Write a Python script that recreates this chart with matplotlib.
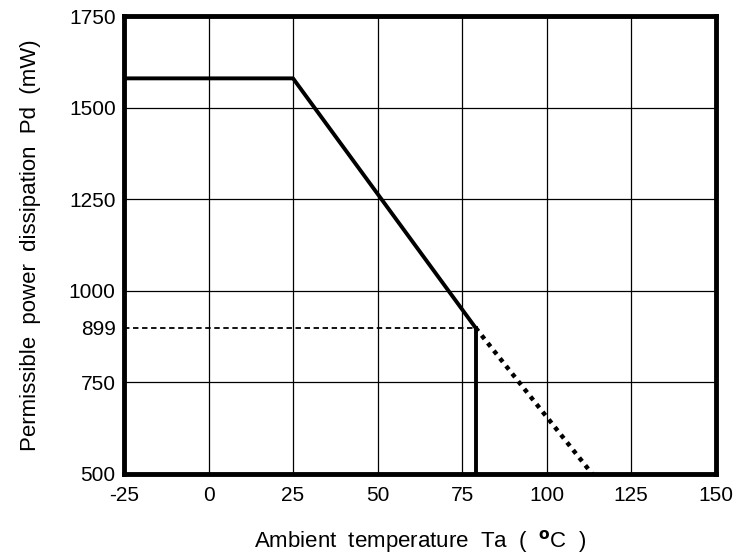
import numpy as np
import matplotlib.pyplot as plt

plt.rcParams['font.family'] = ['Liberation Sans', 'DejaVu Sans']
plt.rcParams['axes.unicode_minus'] = False

# derating curve
ta_solid = [-25, 25, 79]
pd_solid = [1580, 1580, 899]
ta_dot = [79, 113.5]
pd_dot = [899, 500]
ta_mark = 79
pd_mark = 899

xticks = [-25, 0, 25, 50, 75, 100, 125, 150]
yticks = [500, 750, 899, 1000, 1250, 1500, 1750]

fig = plt.figure(figsize=(7.47, 5.55), dpi=100)
ax = fig.add_axes([0.166, 0.146, 0.792, 0.825])

# grid (no line at 899)
for x in xticks:
    ax.axvline(x, color='black', lw=0.9, zorder=1)
for y in [500, 750, 1000, 1250, 1500, 1750]:
    ax.axhline(y, color='black', lw=0.9, zorder=1)

ax.plot(ta_solid, pd_solid, color='black', lw=2.8, zorder=3,
        solid_capstyle='butt')
ax.plot(ta_dot, pd_dot, color='black', lw=3.2, ls=(0, (1, 1.2)), zorder=3)
ax.plot([ta_mark, ta_mark], [500, pd_mark], color='black', lw=2.8, zorder=3)
ax.plot([-25, ta_mark], [pd_mark, pd_mark], color='black', lw=1.3,
        ls=(0, (3, 2)), zorder=2)

ax.set_xlim(-25, 150)
ax.set_ylim(500, 1750)
ax.set_xticks(xticks)
ax.set_yticks(yticks)
ax.tick_params(length=0, labelsize=15)
ax.tick_params(axis='x', pad=9)
ax.tick_params(axis='y', pad=6)
for s in ax.spines.values():
    s.set_linewidth(3.5)
    s.set_zorder(4)

ax.set_xlabel('Ambient  temperature  Ta  (  $\\mathbf{^o}$C  )', fontsize=16,
              labelpad=16)
ax.set_ylabel('Permissible  power  dissipation  Pd  (mW)', fontsize=16,
              labelpad=20)

fig.savefig('out.png', dpi=100)
